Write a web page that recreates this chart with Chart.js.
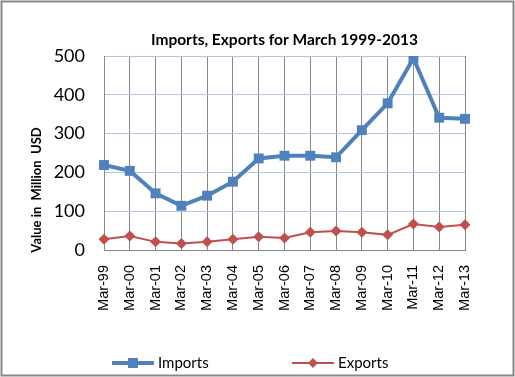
<!DOCTYPE html>
<html>
<head>
<meta charset="utf-8">
<script src="https://cdn.jsdelivr.net/npm/chart.js@4"></script>
<style>
  body { margin: 0; background: #fff; }
  #caja { width: 515px; height: 377px; position: relative; }
</style>
</head>
<body>
<div id="caja"><canvas id="grafica"></canvas></div>
<script>
// datos
var etiquetas = ["Mar-99", "Mar-00", "Mar-01", "Mar-02", "Mar-03", "Mar-04", "Mar-05", "Mar-06",
                 "Mar-07", "Mar-08", "Mar-09", "Mar-10", "Mar-11", "Mar-12", "Mar-13"];
var importaciones = [219, 204, 146, 114, 140, 176, 236, 243, 243, 239, 309, 378, 494, 341, 338];
var exportaciones = [28, 36, 21, 17, 21, 28, 34, 31, 46, 49, 46, 39, 67, 59, 65];
var ticksY = [0, 100, 200, 300, 400, 500];

var titulo = "Imports, Exports for March 1999-2013";
var tituloY = "Value in  Million  USD";

// fondo, marco y titulo del eje Y
var marco = {
  id: "marco",
  beforeDraw: function (chart) {
    var ctx = chart.ctx;
    ctx.save();
    ctx.fillStyle = "#fff";
    ctx.fillRect(0, 0, chart.width, chart.height);
    ctx.strokeStyle = "#888888";
    ctx.lineWidth = 2;
    ctx.strokeRect(1.5, 1.5, chart.width - 3, chart.height - 3);
    ctx.restore();
  },
  afterDraw: function (chart) {
    var ctx = chart.ctx;
    ctx.save();
    ctx.translate(37, 190);
    ctx.rotate(-Math.PI / 2);
    ctx.font = "bold 13px Lato";
    ctx.fillStyle = "#000";
    ctx.textAlign = "center";
    ctx.textBaseline = "middle";
    ctx.fillText(tituloY, 0, 0);
    ctx.restore();
  }
};

// leyenda con linea y marcador
var leyenda = {
  id: "leyenda",
  afterDraw: function (chart) {
    var ctx = chart.ctx;
    var pos = [112, 292];
    var y = 363;
    ctx.save();
    chart.data.datasets.forEach(function (ds, i) {
      var x = pos[i];
      ctx.strokeStyle = ds.borderColor;
      ctx.lineWidth = ds.borderWidth;
      ctx.beginPath();
      ctx.moveTo(x, y);
      ctx.lineTo(x + 42, y);
      ctx.stroke();
      ctx.fillStyle = ds.pointBackgroundColor;
      ctx.beginPath();
      if (ds.pointStyle == "rect") {
        ctx.rect(x + 21 - 5, y - 5, 10, 10);
      } else {
        ctx.moveTo(x + 21, y - 5);
        ctx.lineTo(x + 26, y);
        ctx.lineTo(x + 21, y + 5);
        ctx.lineTo(x + 16, y);
        ctx.closePath();
      }
      ctx.fill();
      ctx.fillStyle = "#000";
      ctx.font = "15px Lato";
      ctx.textBaseline = "middle";
      ctx.fillText(ds.label, x + 46, y);
    });
    ctx.restore();
  }
};

var ctx = document.getElementById("grafica").getContext("2d");
var miGrafica = new Chart(ctx, {
  type: "line",
  data: {
    labels: etiquetas,
    datasets: [{
      label: "Imports",
      data: importaciones,
      borderColor: "#4F81BD",
      backgroundColor: "#4F81BD",
      pointBackgroundColor: "#4F81BD",
      borderWidth: 4,
      pointStyle: "rect",
      pointRadius: 7,
      pointBorderWidth: 0,
      tension: 0
    }, {
      label: "Exports",
      data: exportaciones,
      borderColor: "#C0504D",
      backgroundColor: "#C0504D",
      pointBackgroundColor: "#C0504D",
      borderWidth: 2,
      pointStyle: "rectRot",
      pointRadius: 5.5,
      pointBorderWidth: 0,
      tension: 0
    }]
  },
  options: {
    responsive: true,
    maintainAspectRatio: false,
    animation: false,
    layout: { padding: { left: 4, right: 50, top: 4, bottom: 0 } },
    plugins: {
      legend: { display: false },
      tooltip: { enabled: false },
      title: {
        display: true,
        text: titulo,
        fullSize: false,
        color: "#000",
        font: { family: "Lato", size: 15.5, weight: "bold" },
        padding: { top: 27, bottom: 6.4 }
      }
    },
    scales: {
      x: {
        afterFit: function (scale) { scale.height = 127; },
        grid: { color: "#868686", drawTicks: false },
        border: { color: "#868686", width: 1 },
        ticks: {
          minRotation: 90,
          maxRotation: 90,
          padding: 15,
          color: "#000",
          font: { family: "Liberation Sans", size: 14.5 }
        }
      },
      y: {
        min: 0,
        max: 500,
        afterFit: function (scale) { scale.width = 100; },
        afterBuildTicks: function (scale) {
          scale.ticks = ticksY.map(function (v) { return { value: v }; });
        },
        grid: { color: "#B0C6E2", drawTicks: false },
        border: { color: "#868686", width: 1 },
        ticks: {
          padding: 19,
          color: "#000",
          font: { family: "Lato", size: 18 }
        }
      }
    }
  },
  plugins: [marco, leyenda]
});
</script>
</body>
</html>
